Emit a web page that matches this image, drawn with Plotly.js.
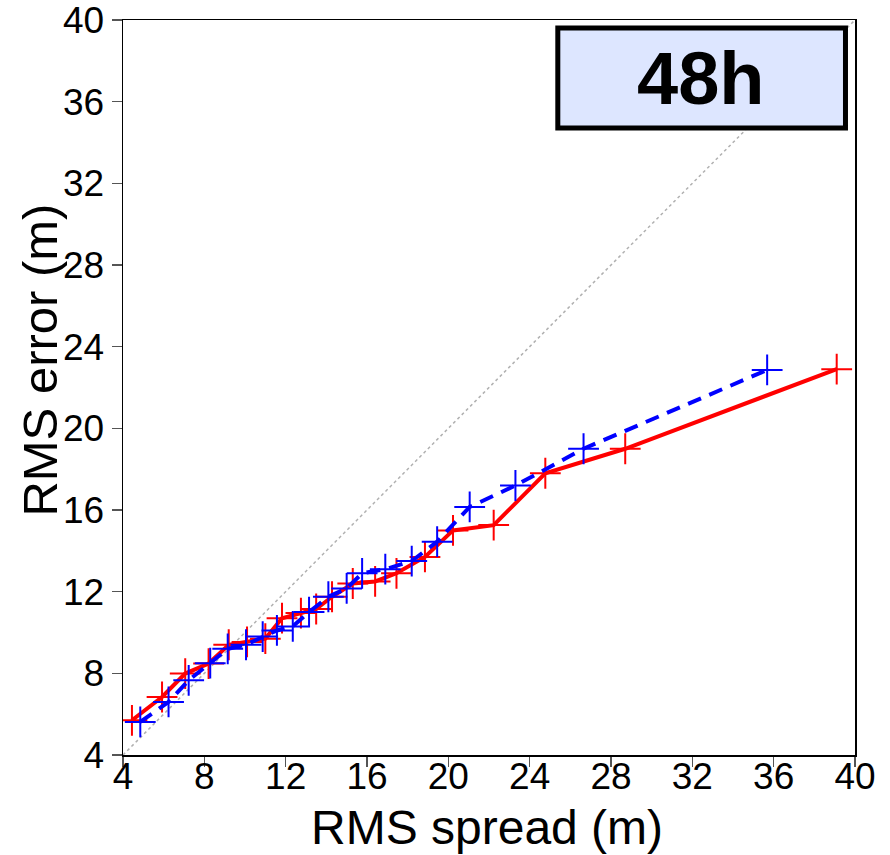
<!DOCTYPE html>
<html>
<head>
<meta charset="utf-8">
<script src="https://cdn.plot.ly/plotly-3.0.1.min.js"></script>
<style>html,body{margin:0;padding:0;background:#fff;}#chart{width:890px;height:855px;}</style>
</head>
<body>
<div id="chart"></div>
<script>
// Red (solid) series
const redSpread = [4.44, 5.92, 7.06, 8.21, 9.2, 10.1, 11.0, 11.82, 12.75, 13.5, 14.28, 15.3, 16.4, 17.45, 18.85, 20.23, 22.23, 24.77, 28.7, 39.1];
const redError  = [5.7, 6.84, 7.99, 8.48, 9.4, 9.54, 9.7, 10.7, 10.95, 11.15, 11.75, 12.4, 12.5, 12.9, 13.7, 15.0, 15.26, 17.8, 19.0, 22.9];
// Blue (dashed) series
const blueSpread = [4.85, 6.24, 7.23, 8.29, 9.15, 10.05, 10.87, 11.57, 12.35, 13.15, 14.1, 15.0, 15.76, 16.9, 18.2, 19.45, 21.05, 23.3, 26.65, 35.68];
const blueError  = [5.62, 6.6, 7.66, 8.5, 9.2, 9.4, 9.8, 10.1, 10.3, 11.0, 11.75, 12.16, 12.9, 13.1, 13.5, 14.45, 16.15, 17.2, 19.0, 22.86];
// One-to-one reference line
const diagX = [4, 40];
const diagY = [4, 40];
const tickVals = [4, 8, 12, 16, 20, 24, 28, 32, 36, 40];
const leadLabel = "48h";
const xTitle = "RMS spread (m)";
const yTitle = "RMS error (m)";

const font = "Liberation Sans, Arial, Helvetica, sans-serif";

const traces = [
  {x: diagX, y: diagY, mode: "lines", line: {color: "#b0b0b0", width: 1.5, dash: "dot"}, hoverinfo: "skip", showlegend: false},
  {x: redSpread, y: redError, mode: "lines+markers", line: {color: "#ff0000", width: 4},
   marker: {symbol: "cross-thin-open", size: 22, line: {color: "#ff0000", width: 2}}, showlegend: false},
  {x: blueSpread, y: blueError, mode: "lines+markers", line: {color: "#0000ff", width: 4, dash: "14px,9px"},
   marker: {symbol: "cross-thin-open", size: 22, line: {color: "#0000ff", width: 2}}, showlegend: false}
];

const axisCommon = {
  range: [4, 40], tickmode: "array", tickvals: tickVals, ticktext: tickVals.map(String),
  ticks: "outside", ticklen: 10, tickwidth: 1.5, tickcolor: "#555",
  showline: true, linecolor: "#000", linewidth: 1.5, mirror: true,
  showgrid: false, zeroline: false, ticklabeloverflow: "allow",
  tickfont: {family: font, size: 37, color: "#000"}
};

const layout = {
  width: 890, height: 855,
  margin: {l: 123, r: 35, t: 20, b: 100},
  paper_bgcolor: "#fff", plot_bgcolor: "#fff",
  xaxis: Object.assign({}, axisCommon, {ticklabelstandoff: -22}),
  yaxis: Object.assign({}, axisCommon),
  shapes: [
    {type: "rect", xref: "paper", yref: "paper", x0: 0.594, x1: 0.987, y0: 0.853, y1: 0.989,
     fillcolor: "#dde6ff", line: {color: "#000", width: 5}}
  ],
  annotations: [
    {xref: "paper", yref: "paper", x: 0.79, y: 0.921, text: "<b>" + leadLabel + "</b>", showarrow: false,
     font: {family: font, size: 74, color: "#000"}, xanchor: "center", yanchor: "middle"},
    {xref: "paper", yref: "paper", x: 0.497, y: -0.098, text: xTitle, showarrow: false,
     font: {family: font, size: 48, color: "#000"}, xanchor: "center", yanchor: "middle"},
    {xref: "paper", yref: "paper", x: -0.113, y: 0.537, text: yTitle, showarrow: false, textangle: -90,
     font: {family: font, size: 49, color: "#000"}, xanchor: "center", yanchor: "middle"}
  ]
};

Plotly.newPlot("chart", traces, layout, {displayModeBar: false, staticPlot: true});
</script>
</body>
</html>
